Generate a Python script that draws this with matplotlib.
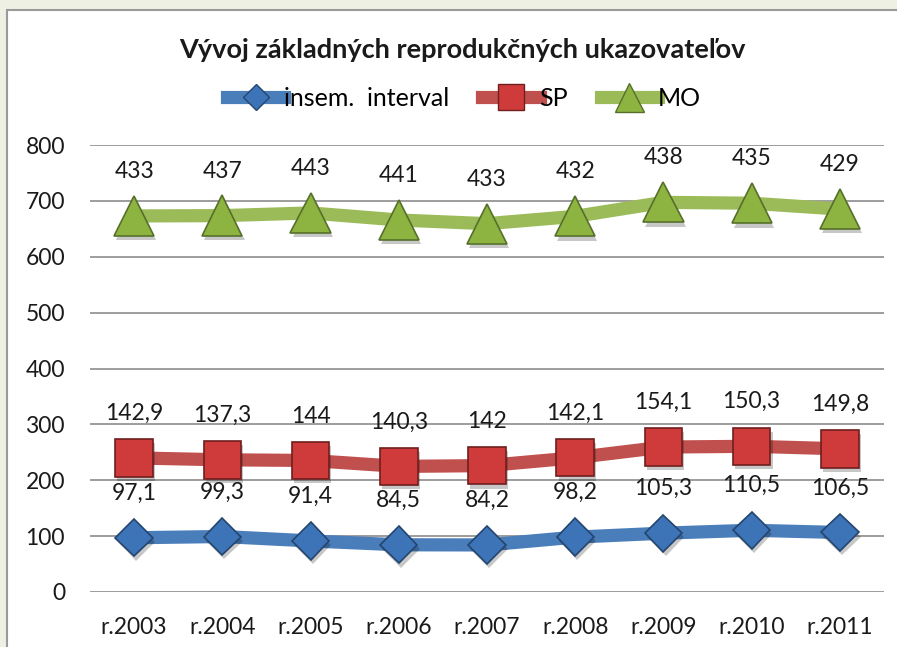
import matplotlib
matplotlib.use("Agg")
import matplotlib.pyplot as plt
import matplotlib.patheffects as pe
from matplotlib.lines import Line2D
from matplotlib.patches import Rectangle
import numpy as np

plt.rcParams['font.family'] = ['Lato', 'DejaVu Sans']

# data (stacked line chart, labels show the raw values)
years = ["r.2003", "r.2004", "r.2005", "r.2006", "r.2007", "r.2008", "r.2009", "r.2010", "r.2011"]
insem = [97.1, 99.3, 91.4, 84.5, 84.2, 98.2, 105.3, 110.5, 106.5]
sp = [142.9, 137.3, 144, 140.3, 142, 142.1, 154.1, 150.3, 149.8]
mo = [433, 437, 443, 441, 433, 432, 438, 435, 429]
names = ["insem.  interval", "SP", "MO"]

line_colors = ["#4A7EBB", "#C0504D", "#9BBB59"]
face_colors = ["#3D74B8", "#CF3B3A", "#8DB440"]
edges = ["#24456E", "#6E1F1E", "#56702A"]
markers = ["D", "s", "^"]
msizes = [19, 27, 29]

fig = plt.figure(figsize=(8.97, 6.47), dpi=100)
fig.patch.set_facecolor("#eef0e4")
# white chart area with grey frame
fig.patches.append(Rectangle((7 / 897, -0.01), 1.0, 1 - 10 / 647 + 0.01,
                             transform=fig.transFigure, facecolor="white",
                             edgecolor="#9a9a9a", linewidth=1.5, zorder=-10))

ax = fig.add_axes([90 / 897, 55 / 647, 794 / 897, 447 / 647])
ax.set_facecolor("none")

shadow = [pe.SimplePatchShadow(offset=(1.5, -3), shadow_rgbFace="black", alpha=0.22), pe.Normal()]

x = np.arange(len(years))
cum = np.zeros(len(years))
handles = []
for vals, name, lc, fc, ec, m, ms in zip([insem, sp, mo], names, line_colors, face_colors,
                                         edges, markers, msizes):
    cum = cum + np.array(vals)
    ax.plot(x, cum, color=lc, linewidth=9.5, zorder=3, solid_capstyle="butt")
    ax.plot(x, cum, linestyle="none", marker=m, markersize=ms, markerfacecolor=fc,
            markeredgecolor=ec, markeredgewidth=1.2, zorder=4, path_effects=shadow)
    handles.append(Line2D([], [], color=lc, linewidth=9.5, marker=m, markersize=ms * 0.72,
                          markerfacecolor=fc, markeredgecolor=ec, markeredgewidth=1.0,
                          label=name))
    for xi, yi, v in zip(x, cum, vals):
        ax.annotate(f"{v:g}".replace(".", ","), (xi, yi), xytext=(0, 32),
                    textcoords="offset points", ha="center", va="center",
                    fontsize=16.5, color="#1a1a1a", zorder=5)

ax.set_xlim(-0.5, len(years) - 0.5)
ax.set_ylim(0, 800)
ax.set_yticks(range(0, 801, 100))
ax.set_xticks(x)
ax.set_xticklabels(years)
ax.tick_params(axis="both", length=0, labelsize=16.5, colors="#1a1a1a")
ax.tick_params(axis="y", pad=18)
ax.tick_params(axis="x", pad=18)
ax.grid(axis="y", color="#8c8c8c", linewidth=1.2)
ax.set_axisbelow(True)
for s in ax.spines.values():
    s.set_visible(False)

fig.text(462 / 897, 1 - 50 / 647, "Vývoj základných reprodukčných ukazovateľov",
         ha="center", va="center", fontsize=19.5, fontweight="bold", color="#1a1a1a")

fig.legend(handles=handles, loc="center", bbox_to_anchor=(464 / 897, 1 - 98 / 647),
           ncol=3, frameon=False, fontsize=18,
           handlelength=2.3, handletextpad=0.0, columnspacing=1.3)

fig.savefig("out.png", dpi=100)
